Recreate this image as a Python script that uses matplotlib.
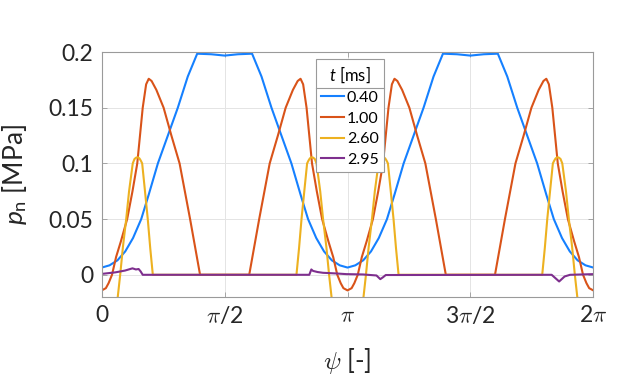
#!/usr/bin/env python3
"""Normal pressure p_n along the angle psi for four time instants."""
import matplotlib

matplotlib.use("Agg")
import matplotlib.pyplot as plt
import numpy as np
from matplotlib.lines import Line2D

# angles read in degrees, converted to rad for plotting
PSI_040 = [0, 5.7, 11.5, 17.2, 22.9, 28.9, 34.4, 41.1, 48.7, 55.7, 63, 69.9, 80.2, 90,
           99.8, 110.1, 117, 124.3, 131.3, 138.9, 145.6, 151.1, 157.1, 162.8, 168.5, 174.3, 180,
           185.7, 191.5, 197.2, 202.9, 208.9, 214.4, 221.1, 228.7, 235.7, 243, 249.9, 260.2, 270,
           279.8, 290.1, 297, 304.3, 311.3, 318.9, 325.6, 331.1, 337.1, 342.8, 348.5, 354.3, 360]
P_040 = [0.0065, 0.0085, 0.013, 0.021, 0.033, 0.05, 0.072, 0.1, 0.126, 0.15, 0.178, 0.1985, 0.198, 0.1968,
         0.198, 0.1985, 0.178, 0.15, 0.126, 0.1, 0.072, 0.05, 0.033, 0.021, 0.013, 0.0085, 0.0065,
         0.0085, 0.013, 0.021, 0.033, 0.05, 0.072, 0.1, 0.126, 0.15, 0.178, 0.1985, 0.198, 0.1968,
         0.198, 0.1985, 0.178, 0.15, 0.126, 0.1, 0.072, 0.05, 0.033, 0.021, 0.013, 0.0085, 0.0065]

PSI_100 = [0, 3, 5, 7.5, 10.5, 14, 18.6, 22.5, 26, 30, 32.5, 34.4, 36.5, 40, 45.3, 51, 57, 64.7, 72,
           108, 115.3, 123, 129, 134.7, 140, 143.5, 145.6, 147.5, 150, 154, 157.5, 161.4, 166, 169.5, 172.5, 175, 177, 180,
           183, 185, 187.5, 190.5, 194, 198.6, 202.5, 206, 210, 212.5, 214.4, 216.5, 220, 225.3, 231, 237, 244.7, 252,
           288, 295.3, 303, 309, 314.7, 320, 323.5, 325.6, 327.5, 330, 334, 337.5, 341.4, 346, 349.5, 352.5, 355, 357, 360]
P_100 = [-0.014, -0.012, -0.0075, 0, 0.016, 0.03, 0.05, 0.075, 0.1, 0.15, 0.171, 0.176, 0.174, 0.166, 0.15, 0.125, 0.1, 0.05, 0,
         0, 0.05, 0.1, 0.125, 0.15, 0.166, 0.174, 0.176, 0.171, 0.15, 0.1, 0.075, 0.05, 0.03, 0.016, 0, -0.0075, -0.012, -0.014,
         -0.012, -0.0075, 0, 0.016, 0.03, 0.05, 0.075, 0.1, 0.15, 0.171, 0.176, 0.174, 0.166, 0.15, 0.125, 0.1, 0.05, 0,
         0, 0.05, 0.1, 0.125, 0.15, 0.166, 0.174, 0.176, 0.171, 0.15, 0.1, 0.075, 0.05, 0.03, 0.016, 0, -0.0075, -0.012, -0.014]

PSI_260 = [0, 6, 10, 11.7, 13.5, 15.5, 17.9, 20, 22.7, 24, 25.2, 26.4, 27.6, 28.6, 29.6, 31.5, 33.7, 35.5, 37.4,
           142.6, 144.5, 146.3, 148.5, 150.4, 151.4, 152.4, 153.6, 154.8, 156, 157.3, 160, 162.1, 164.5, 166.5, 168.3, 170, 174, 180,
           186, 190, 191.7, 193.5, 195.5, 197.9, 200, 202.7, 204, 205.2, 206.4, 207.6, 208.6, 209.6, 211.5, 213.7, 215.5, 217.4,
           322.6, 324.5, 326.3, 328.5, 330.4, 331.4, 332.4, 333.6, 334.8, 336, 337.3, 340, 342.1, 344.5, 346.5, 348.3, 350, 354, 360]
P_260 = [-0.12, -0.07, -0.035, -0.02, 0, 0.025, 0.05, 0.075, 0.1, 0.104, 0.1052, 0.1055, 0.1045, 0.1025, 0.1, 0.077, 0.05, 0.024, 0,
         0, 0.024, 0.05, 0.077, 0.1, 0.1025, 0.1045, 0.1055, 0.1052, 0.104, 0.1, 0.075, 0.05, 0.025, 0, -0.02, -0.035, -0.07, -0.12,
         -0.07, -0.035, -0.02, 0, 0.025, 0.05, 0.075, 0.1, 0.104, 0.1052, 0.1055, 0.1045, 0.1025, 0.1, 0.077, 0.05, 0.024, 0,
         0, 0.024, 0.05, 0.077, 0.1, 0.1025, 0.1045, 0.1055, 0.1052, 0.104, 0.1, 0.075, 0.05, 0.025, 0, -0.02, -0.035, -0.07, -0.12]

PSI_295 = [0, 10, 17, 22.5, 25, 27, 28.5, 30, 152, 153.5, 154.7, 158, 162, 171.8, 179.2, 191.4,
           201.2, 204, 206, 208, 329.5, 335, 339, 343, 360]
P_295 = [0.0008, 0.0022, 0.0038, 0.0058, 0.0048, 0.0052, 0.003, 0, 0, 0.0048, 0.0035, 0.0025, 0.0018, 0.0012, 0.0006, 0.0003,
         -0.0006, -0.0039, -0.0022, -0.0002, 0, -0.006, -0.0015, 0, 0.0006]

TIMES = ["0.40", "1.00", "2.60", "2.95"]
COLORS = ["#1580FF", "#D95319", "#EDB120", "#7E2F8E"]

X_TICK_LABELS = ["0", r"$\pi$/2", r"$\pi$", r"3$\pi$/2", r"2$\pi$"]
Y_TICKS = [0, 0.05, 0.1, 0.15, 0.2]
Y_TICK_LABELS = ["0", "0.05", "0.1", "0.15", "0.2"]

plt.rcParams["font.family"] = ["Lato", "DejaVu Sans"]
plt.rcParams["mathtext.fontset"] = "custom"
plt.rcParams["mathtext.rm"] = "Lato"
plt.rcParams["mathtext.it"] = "Lato:italic"
plt.rcParams["mathtext.sf"] = "Lato"

TEXT_COLOR = "#262626"
AXIS_COLOR = "#9a9a9a"


def main() -> None:
    fig = plt.figure(figsize=(6.4, 3.77), dpi=100)
    ax = fig.add_axes([0.159, 0.212, 0.768, 0.650])

    series = [(PSI_040, P_040), (PSI_100, P_100), (PSI_260, P_260), (PSI_295, P_295)]
    handles = []
    for (psi, p), color in zip(series, COLORS):
        (line,) = ax.plot(np.deg2rad(psi), p, color=color, lw=1.5)
        handles.append(line)

    ax.set_xlim(0, 2 * np.pi)
    ax.set_ylim(-0.02, 0.2)
    ax.set_xticks(np.pi * np.array([0, 0.5, 1, 1.5, 2]))
    ax.set_xticklabels(X_TICK_LABELS)
    for lab in ax.get_xticklabels():
        lab.set_math_fontfamily("cm")
    ax.set_yticks(Y_TICKS)
    ax.set_yticklabels(Y_TICK_LABELS)

    ax.grid(True, color="#e4e4e4", lw=0.7)
    ax.set_axisbelow(True)
    ax.tick_params(direction="in", top=True, right=True, length=3.5, width=0.6,
                   color=AXIS_COLOR, labelcolor=TEXT_COLOR, labelsize=16.5, pad=6)
    for spine in ax.spines.values():
        spine.set_color(AXIS_COLOR)
        spine.set_linewidth(0.8)

    ax.set_xlabel(r"$\psi$ [-]", fontsize=18.5, color=TEXT_COLOR, math_fontfamily="cm")
    ax.set_ylabel(r"$p_\mathrm{n}$ [MPa]", fontsize=19, color=TEXT_COLOR)
    ax.xaxis.set_label_coords(0.5, -0.20)
    ax.yaxis.set_label_coords(-0.148, 0.5)

    leg = ax.legend(handles, TIMES, title=r"$t$ [ms]", loc="upper left",
                    bbox_to_anchor=(0.4933, 0.8427), bbox_transform=fig.transFigure,
                    borderaxespad=0, fancybox=False, framealpha=1, edgecolor=AXIS_COLOR,
                    fontsize=11.5, title_fontsize=12, handlelength=1.45, handletextpad=0.2,
                    labelspacing=0.4, borderpad=0.3)
    leg.get_frame().set_linewidth(0.8)
    for txt in leg.get_texts():
        txt.set_color("black")

    # separator line under the legend title
    fig.canvas.draw()
    title_box = leg.get_title().get_window_extent()
    first_box = leg.get_texts()[0].get_window_extent()
    frame_box = leg.get_frame().get_window_extent()
    y_sep = 0.5 * (title_box.y0 + first_box.y1)
    inv = fig.transFigure.inverted()
    (x0, y0), (x1, _) = inv.transform([(frame_box.x0, y_sep), (frame_box.x1, y_sep)])
    fig.add_artist(Line2D([x0, x1], [y0, y0], color=AXIS_COLOR, lw=0.8,
                          transform=fig.transFigure))

    fig.savefig("out.png", dpi=100, facecolor="white")
    plt.close(fig)


if __name__ == "__main__":
    main()
